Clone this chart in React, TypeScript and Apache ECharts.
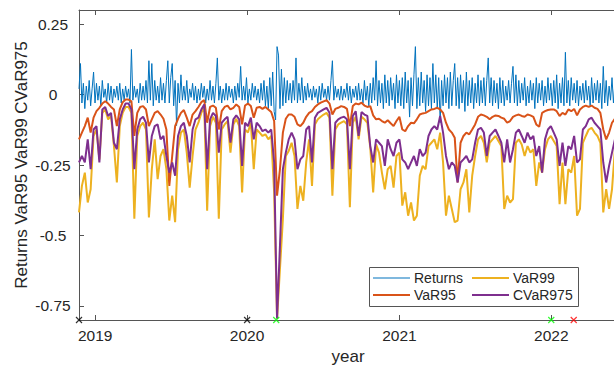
import React, { useEffect, useRef } from "react";
import * as echarts from "echarts";

const START_DATE = "2018-11-23";
const VAR_STEP_DAYS = 7;
const RETURN_STEP_DAYS = 3.5;
const X_MIN = "2018-11-23";
const X_MAX = "2022-06-08";
const Y_MIN = -0.8;
const Y_MAX = 0.3;

const yearTicks = ["2019-01-01", "2020-01-01", "2021-01-01", "2022-01-01"];
const yTicks = [-0.75, -0.5, -0.25, 0, 0.25];

const blackMarks = ["2018-11-23", "2020-01-01"];
const greenMarks = ["2020-03-11", "2022-01-01"];
const redMarks = ["2022-02-24"];

const returns = [
  0.02, 0.11, -0.03, 0.04, -0.05, 0.03, -0.02, 0.05, -0.04, 0.02, 0.08, -0.03, 0.04, -0.02, 0.03, -0.04, 0.05, -0.01, 0.02, -0.03,
  0.04, -0.02, 0.03, -0.03, 0.02, -0.01, 0.03, -0.02, 0.04, -0.03, 0.02, -0.02, 0.03, -0.01, 0.02, -0.03, 0.16, -0.02, 0.03, -0.01,
  0.02, -0.03, 0.04, -0.02, 0.03, -0.02, 0.05, -0.03, 0.12, -0.02, 0.11, -0.04, 0.05, -0.02, 0.03, -0.03, 0.06, -0.02, 0.04, -0.03,
  0.05, 0.12, -0.03, 0.06, 0.11, -0.04, 0.05, -0.11, 0.04, -0.03, 0.07, -0.02, 0.03, -0.02, 0.05, -0.03, 0.02, -0.01, 0.04, -0.02,
  0.03, -0.03, 0.02, -0.02, 0.04, -0.01, 0.03, -0.03, 0.02, -0.02, 0.05, -0.02, 0.03, -0.03, 0.04, 0.13, -0.02, 0.03, -0.03, 0.02,
  -0.02, 0.04, -0.02, 0.03, -0.01, 0.02, -0.03, 0.03, -0.02, 0.04, -0.01, 0.10, -0.02, 0.03, -0.02, 0.06, -0.03, 0.02, -0.02, 0.04,
  -0.01, 0.03, -0.02, 0.02, -0.03, 0.04, -0.02, 0.05, -0.04, 0.03, -0.05, 0.06, -0.04, 0.08, -0.06, -0.09, 0.17, 0.14, -0.05, 0.09,
  -0.04, 0.06, -0.03, 0.05, -0.02, 0.04, -0.03, 0.05, -0.02, 0.13, -0.03, 0.04, -0.02, 0.06, -0.03, 0.03, -0.02, 0.04, -0.01, 0.02,
  -0.02, 0.03, -0.01, 0.02, -0.03, 0.03, -0.02, 0.04, -0.01, 0.02, -0.02, 0.03, -0.02, 0.05, 0.12, -0.02, 0.03, -0.01, 0.02, -0.02,
  0.03, -0.02, 0.02, -0.01, 0.04, -0.02, 0.03, -0.03, 0.02, -0.01, 0.03, -0.02, 0.04, -0.02, 0.02, -0.03, 0.05, -0.02, 0.03, -0.04,
  0.04, -0.03, 0.06, -0.02, 0.12, -0.04, 0.05, -0.03, 0.04, -0.05, 0.07, -0.03, 0.05, -0.04, 0.06, -0.02, 0.04, -0.05, 0.07, -0.03,
  0.05, -0.04, 0.06, -0.05, 0.08, -0.03, 0.05, -0.08, 0.06, -0.04, 0.07, 0.17, -0.05, 0.06, -0.04, 0.08, -0.03, 0.05, -0.06, 0.07,
  -0.04, 0.06, -0.05, 0.11, -0.03, 0.07, -0.05, 0.06, -0.10, 0.05, -0.04, 0.07, -0.03, 0.06, -0.05, 0.08, -0.04, 0.05, 0.11, -0.04,
  0.06, -0.05, 0.07, -0.03, 0.05, -0.06, 0.08, -0.04, 0.05, -0.03, 0.06, -0.05, 0.04, -0.03, 0.07, -0.04, 0.05, -0.03, 0.06, -0.04,
  0.05, 0.13, -0.03, 0.06, -0.04, 0.05, -0.03, 0.04, -0.05, 0.06, -0.03, 0.05, -0.04, 0.03, -0.02, 0.05, -0.03, 0.04, 0.10, -0.03,
  0.07, -0.04, 0.05, -0.03, 0.04, -0.02, 0.06, -0.04, 0.03, -0.03, 0.05, -0.02, 0.04, -0.05, 0.06, -0.03, 0.04, -0.02, 0.05, -0.04,
  0.03, -0.03, 0.06, -0.02, 0.04, -0.04, 0.05, -0.03, 0.07, -0.05, 0.04, -0.03, 0.06, -0.04, 0.15, -0.03, 0.05, -0.04, 0.06, -0.02,
  0.04, -0.03, 0.05, -0.04, 0.03, -0.02, 0.04, -0.03, 0.05, -0.02, 0.03, -0.04, 0.06, -0.03, 0.04, -0.02, 0.05, -0.03, 0.04, -0.05,
  0.10, -0.03, 0.05, -0.04, 0.03, -0.02, 0.06, -0.03, 0.04, -0.05, 0.03, -0.02,
];

const var95 = [
  -0.159, -0.135, -0.112, -0.082, -0.135, -0.082, -0.059, -0.047, -0.032, -0.024, -0.032, -0.044, -0.053, -0.112, -0.053, -0.027, -0.018, -0.018, -0.024, -0.147,
  -0.065, -0.044, -0.041, -0.053, -0.112, -0.088, -0.065, -0.059, -0.071, -0.086, -0.124, -0.324, -0.218, -0.112, -0.086, -0.065, -0.055,
  -0.082, -0.112, -0.071, -0.059, -0.044, -0.027, -0.020, -0.100, -0.044, -0.039, -0.047, -0.124, -0.059, -0.044, -0.039, -0.053, -0.047, -0.035, -0.044, -0.106,
  -0.039, -0.032, -0.041, -0.082, -0.047, -0.044, -0.051, -0.044, -0.053, -0.062, -0.094, -0.359, -0.265, -0.135, -0.086, -0.071,
  -0.071, -0.079, -0.106, -0.112, -0.100, -0.079, -0.065, -0.059, -0.044, -0.035, -0.029, -0.024, -0.020, -0.032, -0.071, -0.051, -0.047, -0.041, -0.044, -0.051,
  -0.112, -0.041, -0.032, -0.035, -0.029, -0.039, -0.044, -0.041, -0.074, -0.088, -0.086, -0.094, -0.100, -0.091, -0.102, -0.112, -0.094, -0.079,
  -0.124, -0.130, -0.112, -0.100, -0.102, -0.088, -0.071, -0.067, -0.065, -0.059, -0.053, -0.051, -0.047, -0.053, -0.065, -0.100, -0.124, -0.135, -0.153, -0.312,
  -0.171, -0.147, -0.135, -0.141, -0.124, -0.106, -0.079, -0.071, -0.074, -0.079, -0.088, -0.079, -0.074, -0.076, -0.082, -0.086,
  -0.100, -0.094, -0.079, -0.074, -0.071, -0.076, -0.079, -0.071, -0.074, -0.079, -0.106, -0.114, -0.065, -0.059, -0.055, -0.053, -0.053, -0.059, -0.076, -0.065,
  -0.071, -0.053, -0.059, -0.051, -0.074, -0.053, -0.044, -0.039, -0.044, -0.039, -0.047, -0.051, -0.065, -0.124, -0.159, -0.135, -0.100, -0.086, -0.079,
];

const var99 = [
  -0.418, -0.324, -0.277, -0.383, -0.336, -0.147, -0.124, -0.230, -0.065, -0.053, -0.088, -0.076, -0.183, -0.312, -0.112, -0.065, -0.044, -0.044, -0.065, -0.441,
  -0.147, -0.112, -0.100, -0.124, -0.436, -0.265, -0.159, -0.300, -0.218, -0.194, -0.265, -0.447, -0.359, -0.453, -0.194, -0.135, -0.124,
  -0.206, -0.330, -0.218, -0.124, -0.100, -0.065, -0.047, -0.412, -0.112, -0.079, -0.100, -0.441, -0.124, -0.106, -0.094, -0.206, -0.106, -0.086, -0.112, -0.347,
  -0.124, -0.135, -0.100, -0.265, -0.124, -0.135, -0.147, -0.141, -0.159, -0.147, -0.347, -0.795, -0.618, -0.441, -0.218, -0.200,
  -0.171, -0.218, -0.406, -0.324, -0.377, -0.241, -0.159, -0.324, -0.106, -0.088, -0.079, -0.071, -0.065, -0.082, -0.359, -0.124, -0.106, -0.100, -0.094, -0.106,
  -0.400, -0.100, -0.079, -0.159, -0.079, -0.088, -0.100, -0.188, -0.347, -0.177, -0.206, -0.277, -0.336, -0.265, -0.253, -0.330, -0.218, -0.206,
  -0.394, -0.347, -0.430, -0.383, -0.447, -0.430, -0.288, -0.253, -0.265, -0.183, -0.171, -0.159, -0.194, -0.135, -0.241, -0.430, -0.359, -0.406, -0.453, -0.447,
  -0.336, -0.312, -0.265, -0.418, -0.288, -0.218, -0.159, -0.147, -0.171, -0.241, -0.171, -0.159, -0.147, -0.165, -0.183, -0.406,
  -0.359, -0.383, -0.371, -0.171, -0.159, -0.177, -0.218, -0.183, -0.206, -0.194, -0.324, -0.241, -0.277, -0.194, -0.159, -0.147, -0.165, -0.183, -0.389, -0.241,
  -0.389, -0.265, -0.277, -0.218, -0.430, -0.406, -0.171, -0.147, -0.124, -0.118, -0.135, -0.147, -0.171, -0.418, -0.336, -0.406, -0.336, -0.194, -0.183,
];

const cvar975 = [
  -0.241, -0.218, -0.241, -0.159, -0.265, -0.124, -0.112, -0.241, -0.053, -0.044, -0.076, -0.065, -0.171, -0.194, -0.088, -0.053, -0.032, -0.032, -0.053, -0.265,
  -0.124, -0.088, -0.079, -0.100, -0.241, -0.147, -0.112, -0.106, -0.159, -0.147, -0.218, -0.277, -0.241, -0.288, -0.147, -0.112, -0.100,
  -0.147, -0.241, -0.124, -0.088, -0.082, -0.053, -0.035, -0.265, -0.088, -0.065, -0.076, -0.206, -0.100, -0.088, -0.079, -0.171, -0.088, -0.074, -0.088, -0.253,
  -0.100, -0.112, -0.082, -0.159, -0.100, -0.112, -0.130, -0.124, -0.135, -0.124, -0.241, -0.795, -0.536, -0.265, -0.206, -0.159,
  -0.135, -0.159, -0.265, -0.230, -0.218, -0.124, -0.112, -0.241, -0.082, -0.065, -0.059, -0.053, -0.047, -0.065, -0.265, -0.100, -0.088, -0.082, -0.079, -0.088,
  -0.265, -0.076, -0.059, -0.147, -0.062, -0.071, -0.076, -0.183, -0.241, -0.159, -0.171, -0.183, -0.253, -0.159, -0.194, -0.218, -0.171, -0.159,
  -0.230, -0.241, -0.265, -0.241, -0.218, -0.253, -0.194, -0.218, -0.206, -0.147, -0.124, -0.112, -0.124, -0.076, -0.135, -0.218, -0.265, -0.241, -0.253, -0.312,
  -0.241, -0.230, -0.218, -0.241, -0.230, -0.171, -0.124, -0.118, -0.135, -0.218, -0.147, -0.135, -0.124, -0.147, -0.171, -0.241,
  -0.159, -0.241, -0.194, -0.135, -0.124, -0.147, -0.171, -0.135, -0.159, -0.147, -0.218, -0.183, -0.277, -0.159, -0.124, -0.112, -0.135, -0.159, -0.253, -0.171,
  -0.253, -0.183, -0.194, -0.147, -0.241, -0.230, -0.124, -0.112, -0.088, -0.082, -0.100, -0.112, -0.124, -0.241, -0.312, -0.253, -0.206, -0.159, -0.147,
];

const DAY = 86400000;
const FONT = "'Liberation Sans', Arial, Helvetica, sans-serif";
const TEXT = "#262626";
const AXIS = "#555555";

const toTime = (s: string) => Date.parse(s + "T00:00:00Z");

function seriesData(values: number[], stepDays: number) {
  const t0 = toTime(START_DATE);
  return values.map((v, i) => [t0 + i * stepDays * DAY, v]);
}

function markData(dates: string[]) {
  return dates.map((d) => [toTime(d), Y_MIN]);
}

const CROSS = "path://M0,0L10,10M10,0L0,10";

function markSeries(name: string, dates: string[], color: string) {
  return {
    name,
    type: "scatter",
    xAxisIndex: 0,
    yAxisIndex: 0,
    data: markData(dates),
    symbol: CROSS,
    symbolSize: 6,
    clip: false,
    z: 5,
    silent: true,
    itemStyle: { color: "rgba(0,0,0,0)", borderColor: color, borderWidth: 1.2 },
  };
}

function lineSeries(name: string, values: number[], stepDays: number, color: string, width: number) {
  return {
    name,
    type: "line",
    data: seriesData(values, stepDays),
    showSymbol: false,
    symbol: "none",
    color,
    lineStyle: { color, width },
    silent: true,
  };
}

function legendItem(name: string, left: number, top: number, thickness: number) {
  return {
    data: [{ name, icon: "rect" }],
    orient: "vertical",
    left,
    top,
    itemWidth: 37,
    itemHeight: thickness,
    itemGap: 0,
    padding: 0,
    textStyle: { fontSize: 14, color: TEXT, fontFamily: FONT, padding: [0, 0, 0, -1] },
    selectedMode: false,
    z: 6,
  };
}

export default function App() {
  const ref = useRef<HTMLDivElement>(null);

  useEffect(() => {
    if (!ref.current) return;
    const chart = echarts.init(ref.current, undefined, { renderer: "svg" });
    const xMin = toTime(X_MIN);
    const xMax = toTime(X_MAX);
    const yearVals = yearTicks.map(toTime);

    chart.setOption({
      animation: false,
      textStyle: { fontFamily: FONT },
      grid: { left: 79, top: 10, right: 23, bottom: 51, containLabel: false },
      xAxis: [
        {
          type: "value",
          min: xMin,
          max: xMax,
          position: "bottom",
          name: "year",
          nameLocation: "middle",
          nameGap: 28,
          nameMoveOverlap: false,
          nameTextStyle: { fontSize: 17, color: TEXT, fontFamily: FONT },
          axisLine: { show: true, onZero: false, lineStyle: { color: AXIS, width: 1 } },
          axisTick: { show: true, inside: true, length: 5, customValues: yearVals, lineStyle: { color: AXIS } },
          axisLabel: {
            customValues: yearVals,
            margin: 7,
            fontSize: 15.5,
            color: TEXT,
            fontFamily: FONT,
            formatter: (v: number) => String(new Date(v).getUTCFullYear()),
          },
          splitLine: { show: false },
        },
        {
          type: "value",
          min: xMin,
          max: xMax,
          position: "top",
          axisLine: { show: true, onZero: false, lineStyle: { color: AXIS, width: 1 } },
          axisTick: { show: true, inside: true, length: 5, customValues: yearVals, lineStyle: { color: AXIS } },
          axisLabel: { show: false },
          splitLine: { show: false },
        },
      ],
      yAxis: {
        type: "value",
        min: Y_MIN,
        max: Y_MAX,
        name: "Returns VaR95 VaR99 CVaR975",
        nameLocation: "middle",
        nameGap: 49,
        nameMoveOverlap: false,
        nameTextStyle: { fontSize: 17, color: TEXT, fontFamily: FONT },
        axisLine: { show: true, onZero: false, lineStyle: { color: AXIS, width: 1 } },
        axisTick: { show: true, inside: true, length: 5, customValues: yTicks, lineStyle: { color: AXIS } },
        axisLabel: {
          customValues: yTicks,
          align: "center",
          margin: 26,
          fontSize: 15.5,
          color: TEXT,
          fontFamily: FONT,
        },
        splitLine: { show: false },
      },
      legend: [
        legendItem("Returns", 373, 271, 1),
        legendItem("VaR95", 373, 288, 2),
        legendItem("VaR99", 472, 271, 2),
        legendItem("CVaR975", 472, 288, 2),
      ],
      graphic: [
        {
          type: "rect",
          z: 3,
          shape: { x: 369.5, y: 267.5, width: 209, height: 39 },
          style: { fill: "#ffffff", stroke: AXIS, lineWidth: 1 },
        },
      ],
      series: [
        lineSeries("Returns", returns, RETURN_STEP_DAYS, "#0072BD", 1),
        lineSeries("VaR95", var95, VAR_STEP_DAYS, "#D95319", 2),
        lineSeries("VaR99", var99, VAR_STEP_DAYS, "#EDB120", 2),
        lineSeries("CVaR975", cvar975, VAR_STEP_DAYS, "#7E2F8E", 2),
        markSeries("mark-black", blackMarks, "#000000"),
        markSeries("mark-green", greenMarks, "#00ff00"),
        markSeries("mark-red", redMarks, "#ff0000"),
      ],
    });

    return () => chart.dispose();
  }, []);

  return (
    <div style={{ position: "fixed", left: 0, top: 0, width: 614, height: 371, overflow: "hidden", background: "#fff" }}>
      <div ref={ref} style={{ width: 640, height: 371 }} />
    </div>
  );
}
